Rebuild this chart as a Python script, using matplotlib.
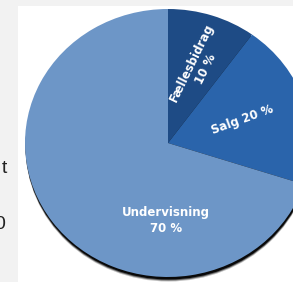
# pie chart: income shares

import matplotlib
matplotlib.use("Agg")
import matplotlib.pyplot as plt
from matplotlib.patches import Ellipse, Rectangle

labels = ["Fællesbidrag", "Salg", "Undervisning"]
values = [10, 20, 70]
colors = ["#1e4b85", "#2a64ab", "#6d96c7"]

W, H = 293, 282
cx, cy = 168, 143      # pie centre in pixels
rx, ry = 143, 134      # pie radii in pixels (picture is slightly squashed)

fig = plt.figure(figsize=(W / 100, H / 100), dpi=100)
fig.patch.set_facecolor("#f2f2f2")
ax = fig.add_axes([0, 0, 1, 1])
ax.set_facecolor("#f2f2f2")


def px(x, y):
    # pixel position -> data units of the pie
    return (x - cx) / rx, (cy - y) / ry


# white panel behind the chart
x0, y0 = px(18, 6)
ax.add_patch(Rectangle((x0, px(0, H)[1]), px(W, 0)[0] - x0, y0 - px(0, H)[1],
                       facecolor="white", edgecolor="none", zorder=0))

# shadow under the pie, only shows at the bottom
for dy, a in [(4.5, 0.25), (3.5, 0.5), (2.5, 0.9)]:
    sx, sy = px(cx + 0.5, cy + dy)
    ax.add_patch(Ellipse((sx, sy), 2, 2, facecolor="black", edgecolor="none",
                         alpha=a, zorder=1))

wedges, _ = ax.pie(values, colors=colors, startangle=90, counterclock=False,
                   radius=1, wedgeprops=dict(linewidth=0))
for w in wedges:
    w.set_zorder(2)

ax.set_aspect("auto")
ax.set_xlim(px(0, 0)[0], px(W, 0)[0])
ax.set_ylim(px(0, H)[1], px(0, 0)[1])
ax.axis("off")

font = dict(color="white", fontweight="bold", fontsize=8.5, ha="center",
            va="center", linespacing=1.3, zorder=3)

tx, ty = px(199, 66)
ax.text(tx, ty, "%s\n%d %%" % (labels[0], values[0]), rotation=64, **font)
tx, ty = px(242, 120)
ax.text(tx, ty, "%s %d %%" % (labels[1], values[1]), rotation=20, **font)
tx, ty = px(166, 220)
ax.text(tx, ty, "%s\n%d %%" % (labels[2], values[2]), **font)

# cut-off text from the page on the left
tx, ty = px(7.5, 168)
ax.text(tx, ty, "t", fontsize=14, color="#222222", ha="right", va="center",
        family="Liberation Sans")
tx, ty = px(5.5, 224)
ax.text(tx, ty, "0", fontsize=14, color="#222222", ha="right", va="center",
        family="Liberation Sans")

fig.savefig("out.png", dpi=100, facecolor=fig.get_facecolor())
